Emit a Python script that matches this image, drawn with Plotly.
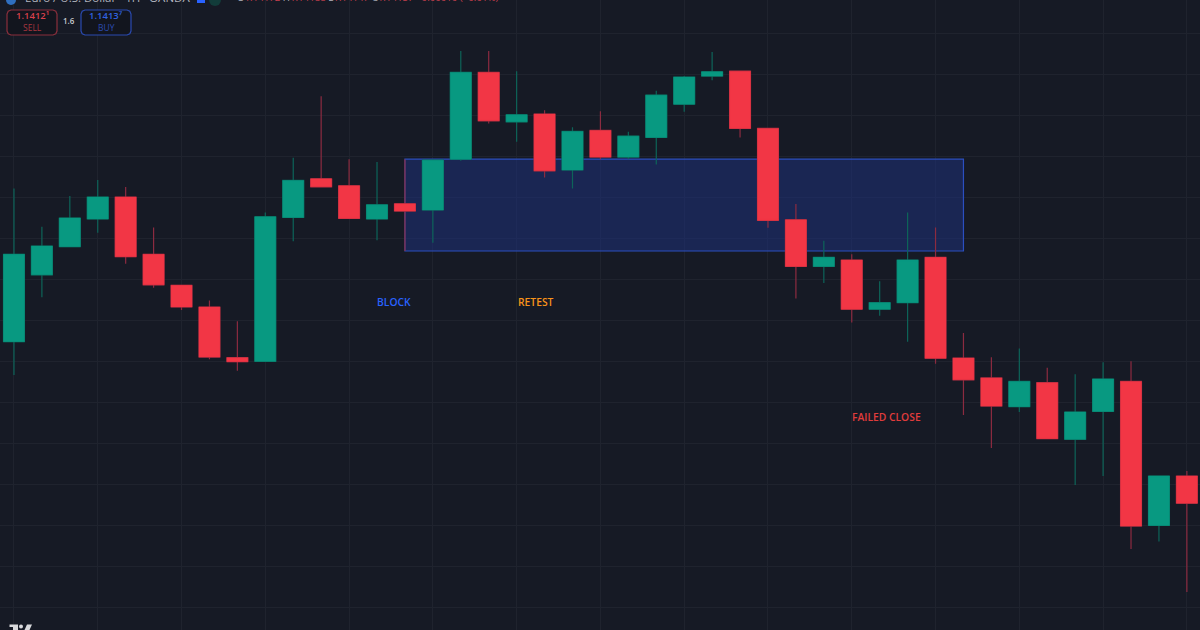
import plotly.graph_objects as go

# hourly candles, EUR/USD
candle_idx = list(range(43))
open_px = [
    1.140096, 1.140422, 1.140559, 1.140694, 1.140801, 1.140522, 1.140371, 1.140265, 1.140018,
    1.140000, 1.140702, 1.140890, 1.140856, 1.140694, 1.140768, 1.140738, 1.140986, 1.141409,
    1.141168, 1.141206, 1.140933, 1.141126, 1.140996, 1.141092, 1.141254, 1.141391, 1.141415,
    1.141136, 1.140690, 1.140463, 1.140494, 1.140254, 1.140286, 1.140507, 1.140016, 1.139919,
    1.139779, 1.139896, 1.139620, 1.139756, 1.139902, 1.139200, 1.139441,
]
high_px = [
    1.140843, 1.140656, 1.140806, 1.140884, 1.140850, 1.140653, 1.140372, 1.140297, 1.140195,
    1.140726, 1.140993, 1.141293, 1.140986, 1.140972, 1.140986, 1.140986, 1.141513, 1.141513,
    1.141415, 1.141225, 1.141141, 1.141220, 1.141119, 1.141319, 1.141391, 1.141509, 1.141415,
    1.141136, 1.140767, 1.140588, 1.140522, 1.140391, 1.140726, 1.140653, 1.140138, 1.140020,
    1.140063, 1.139969, 1.139937, 1.139995, 1.140001, 1.139441, 1.139465,
]
low_px = [
    1.139933, 1.140312, 1.140556, 1.140627, 1.140476, 1.140359, 1.140250, 1.140010, 1.139954,
    1.140000, 1.140586, 1.140851, 1.140697, 1.140591, 1.140538, 1.140578, 1.140978, 1.141160,
    1.141071, 1.140897, 1.140843, 1.140985, 1.140985, 1.140960, 1.141217, 1.141371, 1.141092,
    1.140651, 1.140307, 1.140382, 1.140190, 1.140222, 1.140096, 1.139988, 1.139738, 1.139577,
    1.139753, 1.139623, 1.139397, 1.139441, 1.139085, 1.139121, 1.138875,
]
close_px = [
    1.140522, 1.140562, 1.140699, 1.140801, 1.140510, 1.140373, 1.140265, 1.140021, 1.139998,
    1.140705, 1.140882, 1.140851, 1.140697, 1.140763, 1.140733, 1.140981, 1.141409, 1.141173,
    1.141202, 1.140929, 1.141121, 1.140996, 1.141098, 1.141298, 1.141386, 1.141412, 1.141136,
    1.140687, 1.140463, 1.140507, 1.140254, 1.140286, 1.140494, 1.140015, 1.139910, 1.139782,
    1.139902, 1.139623, 1.139753, 1.139914, 1.139197, 1.139441, 1.139308,
]

zone_start = 14
zone_end = 34
zone_top = 1.140986
zone_bottom = 1.140538

body_high = [max(o, c) for o, c in zip(open_px, close_px)]
body_low = [min(o, c) for o, c in zip(open_px, close_px)]

GREEN = '#089981'
RED = '#f23645'
GREEN_WICK = '#0d6459'
RED_WICK = '#8c2b40'
BG = '#161a25'
GRID = '#1f232e'
W, H = 1200, 630


def px(x, y):
    # pixel position on the page to paper coordinates
    return x / W, 1 - y / H


def path_of(points):
    parts = []
    for i, (x, y) in enumerate(points):
        fx, fy = px(x, y)
        parts.append(f"{'M' if i == 0 else 'L'} {fx:.5f} {fy:.5f}")
    return ' '.join(parts) + ' Z'


def round_box(x0, y0, x1, y1, r, line_color):
    # rounded corners, the paper rect shape has none
    pts = [(x0 + r, y0), (x1 - r, y0), (x1 - r * 0.3, y0 + r * 0.3), (x1, y0 + r),
           (x1, y1 - r), (x1 - r * 0.3, y1 - r * 0.3), (x1 - r, y1), (x0 + r, y1),
           (x0 + r * 0.3, y1 - r * 0.3), (x0, y1 - r), (x0, y0 + r), (x0 + r * 0.3, y0 + r * 0.3)]
    fig.add_shape(
        type='path', xref='paper', yref='paper', path=path_of(pts),
        fillcolor='#12151e', line=dict(color=line_color, width=1.2)
    )


fig = go.Figure()

# wicks first, thinner and dimmer than the bodies
fig.add_trace(go.Candlestick(
    x=candle_idx, open=open_px, high=high_px, low=low_px, close=close_px,
    increasing=dict(line=dict(color=GREEN_WICK, width=1.2), fillcolor=GREEN),
    decreasing=dict(line=dict(color=RED_WICK, width=1.2), fillcolor=RED),
    whiskerwidth=0, hoverinfo='skip'
))
fig.add_trace(go.Candlestick(
    x=candle_idx, open=open_px, high=body_high, low=body_low, close=close_px,
    increasing=dict(line=dict(color=GREEN, width=0.5), fillcolor=GREEN),
    decreasing=dict(line=dict(color=RED, width=0.5), fillcolor=RED),
    whiskerwidth=0
))

fig.add_shape(
    type='rect', layer='between',
    x0=zone_start, x1=zone_end, y0=zone_bottom, y1=zone_top,
    fillcolor='rgba(30,50,130,0.5)', line=dict(color='#2b4fc0', width=1.2)
)

labels = [
    (13.6, 1.140289, 'BLOCK', '#2962ff'),
    (18.69, 1.140289, 'RETEST', '#f7931a'),
    (31.26, 1.139728, 'FAILED CLOSE', '#e03c3c'),
]
for lx, ly, txt, col in labels:
    fig.add_annotation(
        x=lx, y=ly, text=txt, showarrow=False, xanchor='center', yanchor='middle',
        font=dict(family='Open Sans', size=10.3, color=col, weight=600)
    )

# order ticket widgets in the corner
round_box(7, 10, 57, 35, 4, '#8a2f3c')
round_box(81, 10, 131, 35, 4, '#2a4ab0')

RED_TXT = '#c8404f'
widgets = [
    (32, 15.5, '1.1412¹', 9.5, '#d8404c', 'center', 600),
    (32, 27.5, 'SELL', 8.5, '#a8353f', 'center', 400),
    (69, 21, '1.6', 8, '#c8cad0', 'center', 600),
    (106, 15.5, '1.1413⁷', 9.5, '#2f62e0', 'center', 600),
    (106, 27.5, 'BUY', 8.5, '#2a4ab0', 'center', 400),
    (23, -3, 'Euro / U.S. Dollar · 1H · OANDA', 11.5, '#b2b5be', 'left', 400),
    (235, -2.5,
     f'O<span style="color:{RED_TXT}">1.14172</span> H<span style="color:{RED_TXT}">1.14188</span> '
     f'L<span style="color:{RED_TXT}">1.14147</span> C<span style="color:{RED_TXT}">1.14157</span> '
     f'<span style="color:{RED_TXT}">−0.00010 (−0.01%)</span>', 9.7, '#b2b5be', 'left', 400),
]
for wx, wy, txt, size, col, anchor, wt in widgets:
    fx, fy = px(wx, wy)
    fig.add_annotation(
        xref='paper', yref='paper', x=fx, y=fy, text=txt, showarrow=False,
        xanchor=anchor, yanchor='middle',
        font=dict(family='Open Sans', size=size, color=col, weight=wt)
    )

# header icons, only their lower edge is on the page
for cx, r, col in [(11, 5, '#2f6fc0'), (215, 6, '#123c3a')]:
    x0, y0 = px(cx - r, -r)
    x1, y1 = px(cx + r, r)
    fig.add_shape(type='circle', xref='paper', yref='paper', x0=x0, x1=x1, y0=y0, y1=y1,
                  fillcolor=col, line=dict(width=0))
fig.add_shape(type='path', xref='paper', yref='paper',
              path=path_of([(197, 0), (205, 0), (205, 3), (197, 3)]),
              fillcolor='#2962ff', line=dict(width=0))

# logo at the bottom left, cut off by the page edge
for pts in [[(9.5, 624.5), (18, 624.5), (18, 630), (13, 630), (13, 627), (9.5, 627)],
            [(24.5, 630), (27, 624.5), (32, 624.5), (29.5, 630)]]:
    fig.add_shape(type='path', xref='paper', yref='paper', path=path_of(pts),
                  fillcolor='#d8d9dc', line=dict(width=0))
x0, y0 = px(19, 624.5)
x1, y1 = px(23, 628.5)
fig.add_shape(type='circle', xref='paper', yref='paper', x0=x0, x1=x1, y0=y0, y1=y1,
              fillcolor='#d8d9dc', line=dict(width=0))

fig.update_layout(
    width=W, height=H,
    margin=dict(l=0, r=0, t=0, b=0),
    paper_bgcolor=BG, plot_bgcolor=BG,
    showlegend=False,
    boxgap=0.25,
    boxgroupgap=0,
    xaxis=dict(
        range=[-0.5, 42.47], rangeslider=dict(visible=False),
        tick0=0, dtick=3, showticklabels=False, ticks='',
        showgrid=True, gridcolor=GRID, gridwidth=1, zeroline=False
    ),
    yaxis=dict(
        range=[1.138690, 1.141762],
        tick0=1.14, dtick=0.0002, showticklabels=False, ticks='',
        showgrid=True, gridcolor=GRID, gridwidth=1, zeroline=False
    )
)

fig.write_html(
    "out.html",
    config={'displayModeBar': False},
    post_script="document.body.style.margin='0';"
)
